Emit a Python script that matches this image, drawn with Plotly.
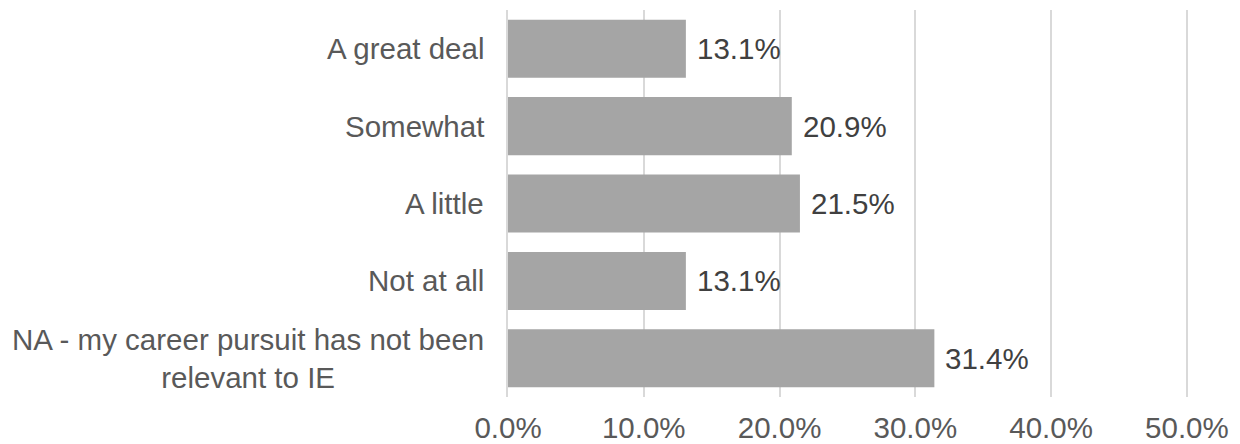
import plotly.graph_objects as go

categories = ["A great deal", "Somewhat", "A little", "Not at all",
              "NA - my career pursuit has not been<br>relevant to IE"]
values = [13.1, 20.9, 21.5, 13.1, 31.4]
tick_vals = [0, 10, 20, 30, 40, 50]
tick_text = ["0.0%", "10.0%", "20.0%", "30.0%", "40.0%", "50.0%"]

FONT = "Liberation Sans, Arial, sans-serif"
FS = 29.5

fig = go.Figure()
fig.add_trace(go.Bar(
    y=categories, x=values, orientation="h",
    marker=dict(color="#A5A5A5", line=dict(width=0)),
    hoverinfo="skip",
))

annotations = []
for c, v in zip(categories, values):
    annotations.append(dict(
        x=v, y=c, xref="x", yref="y", text=f"{v:.1f}%",
        showarrow=False, xanchor="left", xshift=9,
        font=dict(family=FONT, size=FS, color="#404040"),
    ))
    annotations.append(dict(
        x=0, y=c, xref="paper", yref="y", text=c,
        showarrow=False, xanchor="right", align="center", xshift=-22,
        font=dict(family=FONT, size=FS, color="#595959"),
    ))

fig.update_layout(
    width=1240, height=444,
    margin=dict(l=508, r=52, t=10, b=47, autoexpand=False),
    paper_bgcolor="white", plot_bgcolor="white",
    bargap=0.25,
    showlegend=False,
    annotations=annotations,
    xaxis=dict(
        range=[0, 50.08], tickvals=tick_vals, ticktext=tick_text,
        showgrid=True, gridcolor="#D9D9D9", gridwidth=1.5,
        zeroline=False, showline=False, automargin=False,
        tickfont=dict(family=FONT, size=FS, color="#595959"),
        ticks="", ticklabelstandoff=10,
    ),
    yaxis=dict(
        autorange="reversed", showticklabels=False, automargin=False,
        showgrid=False, zeroline=False,
        showline=True, linecolor="#D9D9D9", linewidth=1.5,
    ),
)

fig.write_html("out.html", config={"displayModeBar": False},
               post_script="document.body.style.margin='0';document.body.style.padding='0';")
